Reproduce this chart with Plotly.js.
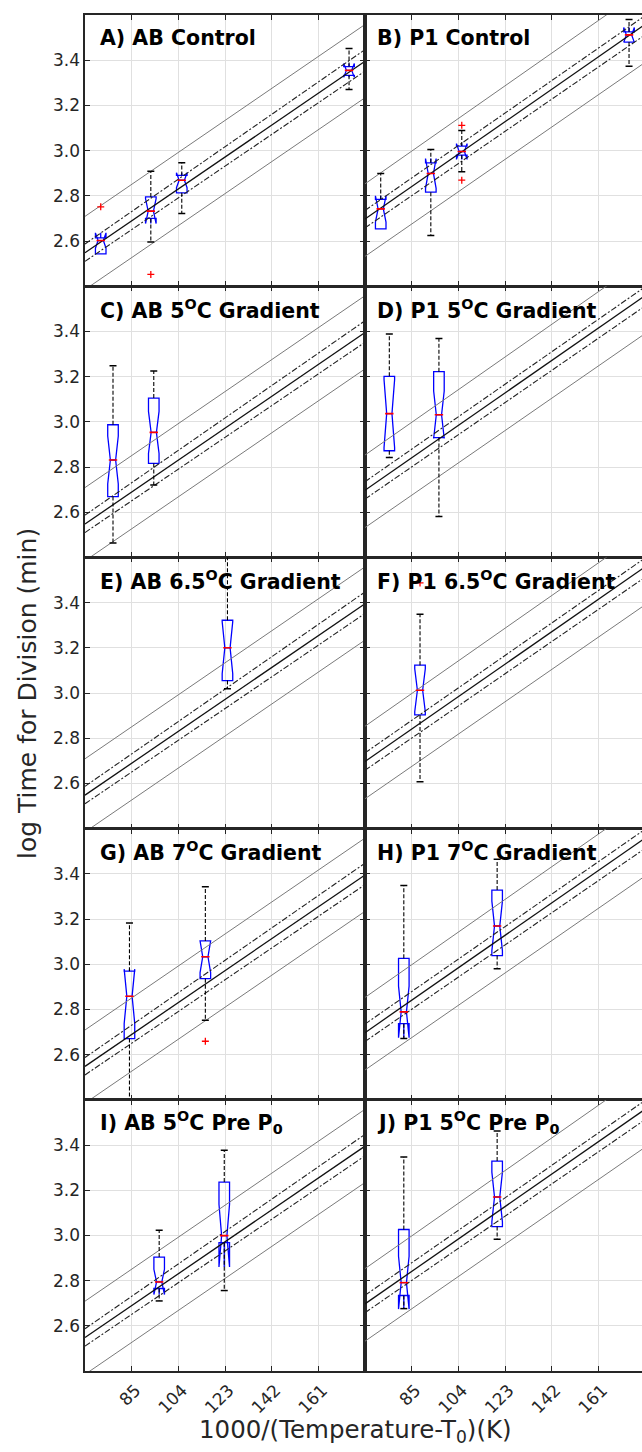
<!DOCTYPE html>
<html><head><meta charset="utf-8">
<script src="https://cdn.plot.ly/plotly-3.0.1.min.js"></script>
<style>html,body{margin:0;padding:0;background:#fff;overflow:hidden}</style>
</head><body><div id="chart" style="width:642px;height:1452px"></div>
<script>
// ---------------- data ----------------
const panelTitles = [
  'A) AB Control', 'B) P1 Control',
  'C) AB 5<sup>O</sup>C Gradient', 'D) P1 5<sup>O</sup>C Gradient',
  'E) AB 6.5<sup>O</sup>C Gradient', 'F) P1 6.5<sup>O</sup>C Gradient',
  'G) AB 7<sup>O</sup>C Gradient', 'H) P1 7<sup>O</sup>C Gradient',
  'I) AB 5<sup>O</sup>C Pre P<sub>0</sub>', 'J) P1 5<sup>O</sup>C Pre P<sub>0</sub>'
];
const panelStrain = ['AB','P1','AB','P1','AB','P1','AB','P1','AB','P1'];

const xTickVals = [85, 104, 123, 142, 161];
const xTickText = ['85', '104', '123', '142', '161'];
const yTickVals = [2.6, 2.8, 3.0, 3.2, 3.4];
const yTickText = ['2.6', '2.8', '3.0', '3.2', '3.4'];

const boxX     = [[72.4, 92.8, 105.4, 173.5], [72.4, 92.8, 105.4, 173.5], [77.4, 94.0], [75.9, 96.1], [124.0], [88.4], [84.1, 115.0], [81.8, 119.8], [96.2, 122.7], [81.8, 119.8]];
const boxQ1    = [[2.543, 2.700, 2.813, 3.333], [2.654, 2.816, 2.980, 3.480], [2.669, 2.816], [2.872, 2.930], [3.055], [2.903], [2.671, 2.936], [2.737, 3.038], [2.765, 2.968], [2.734, 3.039]];
const boxMed   = [[2.602, 2.732, 2.869, 3.355], [2.742, 2.899, 2.996, 3.512], [2.831, 2.953], [3.036, 3.031], [3.200], [3.012], [2.858, 3.033], [2.789, 3.169], [2.794, 2.999], [2.791, 3.170]];
const boxQ3    = [[2.614, 2.795, 2.890, 3.372], [2.784, 2.946, 3.020, 3.525], [2.987, 3.105], [3.201, 3.222], [3.322], [3.123], [2.969, 3.103], [3.026, 3.328], [2.904, 3.236], [3.026, 3.329]];
const boxNotch = [[0.034, 0.055, 0.033, 0.030], [0.058, 0.066, 0.035, 0.033], [0.106, 0.093], [0.150, 0.105], [0.115], [0.095], [0.120, 0.070], [0.114, 0.110], [0.056, 0.139], [0.117, 0.110]];
const whiskerLo = [[2.543, 2.596, 2.722, 3.270], [2.654, 2.624, 2.906, 3.373], [2.464, 2.720], [2.842, 2.581], [3.019], [2.607], [2.380, 2.752], [2.671, 2.980], [2.710, 2.756], [2.676, 2.983]];
const whiskerHi = [[2.614, 2.909, 2.946, 3.452], [2.899, 3.005, 3.089, 3.580], [3.248, 3.225], [3.388, 3.369], [3.700], [3.349], [3.182, 3.343], [3.348, 3.464], [3.023, 3.377], [3.347, 3.462]];
const outlierX = [[72.4, 92.8], [105.4, 105.4], [], [], [], [88.4], [115.0], [], [], []];
const outlierY = [[2.751, 2.452], [3.112, 2.869], [], [], [], [3.487], [2.659], [], [], []];

// regression lines, values at x = 66 and x = 180
const fitX = [66, 180];
const fitAB_predUpper = [2.709, 3.558];
const fitAB_confUpper = [2.587, 3.447];
const fitAB_center    = [2.548, 3.395];
const fitAB_confLower = [2.510, 3.352];
const fitAB_predLower = [2.385, 3.234];
const fitP1_predUpper = [2.853, 3.720];
const fitP1_confUpper = [2.735, 3.597];
const fitP1_center    = [2.697, 3.558];
const fitP1_confLower = [2.658, 3.512];
const fitP1_predLower = [2.532, 3.390];

// ---------------- layout ----------------
const W = 642, H = 1452;
const xMin = 66, xMaxFull = 180;
const colPx = [[85, 365], [365, 642]];
const fullColW = 280;
const rowTop0 = 15, rowH = 271.2;
const axisCol = '#262626';
const font = 'DejaVu Sans, Arial, sans-serif';

const traces = [];
const layout = {
  width: W, height: H, margin: {l: 0, r: 0, t: 0, b: 0},
  showlegend: false, paper_bgcolor: '#ffffff', plot_bgcolor: '#ffffff',
  boxmode: 'overlay', annotations: []
};

const lineSets = {
  AB: [[fitAB_predUpper, 'gray'], [fitAB_confUpper, 'dd'], [fitAB_center, 'c'], [fitAB_confLower, 'dd'], [fitAB_predLower, 'gray']],
  P1: [[fitP1_predUpper, 'gray'], [fitP1_confUpper, 'dd'], [fitP1_center, 'c'], [fitP1_confLower, 'dd'], [fitP1_predLower, 'gray']]
};
const lineStyle = {
  gray: {color: '#7a7a7a', width: 1},
  dd: {color: '#222222', width: 1.1, dash: '6px,2px,2px,2px'},
  c: {color: '#111111', width: 1.3}
};

for (let i = 0; i < 10; i++) {
  const row = Math.floor(i / 2), col = i % 2;
  const n = i + 1;
  const sfx = n === 1 ? '' : String(n);
  const xa = 'x' + sfx, ya = 'y' + sfx;
  const cx = colPx[col];
  const top = rowTop0 + row * rowH, bot = top + rowH;
  const xMax = xMin + (xMaxFull - xMin) * (cx[1] - cx[0]) / fullColW;

  layout['xaxis' + sfx] = {
    domain: [cx[0] / W, cx[1] / W], range: [xMin, xMax], anchor: ya,
    tickmode: 'array', tickvals: xTickVals, ticktext: xTickText,
    showticklabels: row === 4, tickangle: -45, ticklabelstandoff: 1, ticklabelshift: 4,
    tickfont: {family: font, size: 17, color: axisCol},
    ticks: 'inside', ticklen: 5, tickwidth: 1, tickcolor: axisCol,
    showline: true, linecolor: axisCol, linewidth: 1.6, mirror: 'ticks',
    showgrid: true, gridcolor: '#e0e0e0', gridwidth: 1, zeroline: false,
    automargin: false, fixedrange: true
  };
  layout['yaxis' + sfx] = {
    domain: [1 - bot / H, 1 - top / H], range: [2.4, 3.6], anchor: xa,
    tickmode: 'array', tickvals: yTickVals, ticktext: yTickText,
    showticklabels: col === 0,
    tickfont: {family: font, size: 17, color: axisCol},
    ticks: 'inside', ticklen: 5, tickwidth: 1, tickcolor: axisCol,
    showline: true, linecolor: axisCol, linewidth: 1.6, mirror: col === 0 ? 'ticks' : false,
    showgrid: true, gridcolor: '#e0e0e0', gridwidth: 1, zeroline: false,
    automargin: false, fixedrange: true
  };

  // regression + band lines
  lineSets[panelStrain[i]].forEach(([ys, st]) => {
    traces.push({type: 'scatter', mode: 'lines', xaxis: xa, yaxis: ya, x: fitX, y: ys,
      line: lineStyle[st], hoverinfo: 'skip'});
  });

  // notched boxes
  traces.push({
    type: 'box', xaxis: xa, yaxis: ya, x: boxX[i],
    q1: boxQ1[i], median: boxMed[i], q3: boxQ3[i],
    lowerfence: boxQ1[i], upperfence: boxQ3[i], notchspan: boxNotch[i],
    notched: true, notchwidth: 0.25, width: 4.3, whiskerwidth: 0, boxpoints: false,
    line: {color: '#0000ff', width: 1.3}, fillcolor: 'rgba(0,0,0,0)', hoverinfo: 'skip'
  });

  // whiskers
  const wx = [], wy = [], cxs = [], cys = [];
  boxX[i].forEach((x, k) => {
    if (whiskerHi[i][k] > boxQ3[i][k]) { wx.push(x, x, null); wy.push(boxQ3[i][k], whiskerHi[i][k], null); cxs.push(x); cys.push(whiskerHi[i][k]); }
    if (whiskerLo[i][k] < boxQ1[i][k]) { wx.push(x, x, null); wy.push(boxQ1[i][k], whiskerLo[i][k], null); cxs.push(x); cys.push(whiskerLo[i][k]); }
  });
  traces.push({type: 'scatter', mode: 'lines', xaxis: xa, yaxis: ya, x: wx, y: wy,
    line: {color: '#000000', width: 1.1, dash: '4px,2px'}, hoverinfo: 'skip', connectgaps: false});
  traces.push({type: 'scatter', mode: 'markers', xaxis: xa, yaxis: ya, x: cxs, y: cys,
    marker: {symbol: 'line-ew-open', size: 5, color: '#000000', line: {color: '#000000', width: 1.5}}, hoverinfo: 'skip'});

  // medians
  traces.push({type: 'scatter', mode: 'markers', xaxis: xa, yaxis: ya, x: boxX[i], y: boxMed[i],
    marker: {symbol: 'line-ew-open', size: 6, color: '#ff0000', line: {color: '#ff0000', width: 1.6}}, hoverinfo: 'skip'});

  // outliers
  if (outlierX[i].length) {
    traces.push({type: 'scatter', mode: 'markers', xaxis: xa, yaxis: ya, x: outlierX[i], y: outlierY[i],
      marker: {symbol: 'cross-thin-open', size: 5, color: '#ff0000', line: {color: '#ff0000', width: 1.3}}, hoverinfo: 'skip'});
  }

  // panel title
  layout.annotations.push({
    xref: 'paper', yref: 'paper', x: (col === 0 ? 98 : 375) / W, y: 1 - (top + 23) / H,
    xanchor: 'left', yanchor: 'middle', showarrow: false,
    text: '<b>' + panelTitles[i] + '</b>', font: {family: font, size: 20.5, color: '#000000'}
  });
}

// shared axis titles
layout.annotations.push({
  xref: 'paper', yref: 'paper', x: 356 / W, y: 1 - 1431 / H, xanchor: 'center', yanchor: 'middle',
  showarrow: false, text: '1000/(Temperature-T<sub>0</sub>)(K)', font: {family: font, size: 24.5, color: axisCol}
});
layout.annotations.push({
  xref: 'paper', yref: 'paper', x: 27 / W, y: 1 - 694 / H, xanchor: 'center', yanchor: 'middle',
  showarrow: false, textangle: -90, text: 'log Time for Division (min)', font: {family: font, size: 25, color: axisCol}
});

Plotly.newPlot('chart', traces, layout, {staticPlot: true, displayModeBar: false});
</script></body></html>
